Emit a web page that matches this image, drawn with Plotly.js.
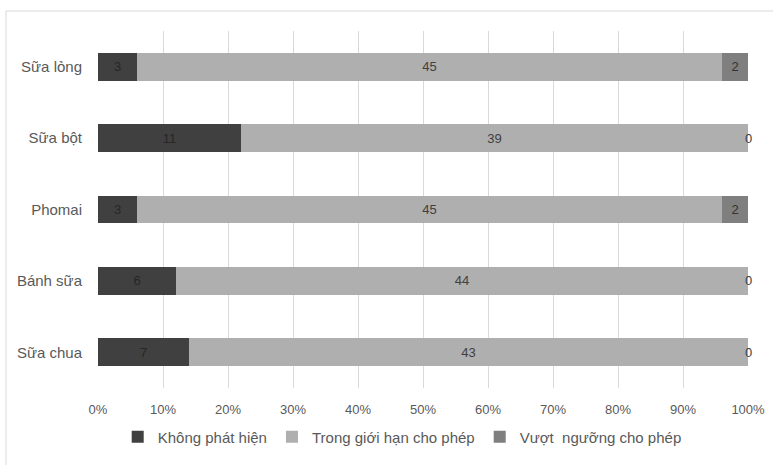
<!DOCTYPE html>
<html>
<head>
<meta charset="utf-8">
<script src="https://cdn.plot.ly/plotly-3.0.1.min.js"></script>
<style>
  html, body { margin: 0; padding: 0; background: #ffffff; }
  #chart { width: 773px; height: 465px; }
</style>
</head>
<body>
<div id="chart"></div>
<script>
// Categories, top to bottom
const categories = ["Sữa lỏng", "Sữa bột", "Phomai", "Bánh sữa", "Sữa chua"];
// Series (counts)
const seriesNames = ["Không phát hiện", "Trong giới hạn cho phép", "Vượt  ngưỡng cho phép"];
const khongPhatHien = [3, 11, 3, 6, 7];
const trongGioiHan = [45, 39, 45, 44, 43];
const vuotNguong = [2, 0, 2, 0, 0];
const tickLabels = ["0%", "10%", "20%", "30%", "40%", "50%", "60%", "70%", "80%", "90%", "100%"];

const colors = ["#404040", "#afafaf", "#7f7f7f"];
const labelColors = ["#262626", "#404040", "#333333"];
const seriesValues = [khongPhatHien, trongGioiHan, vuotNguong];
const FONT = "Liberation Sans, Arial, sans-serif";

const traces = seriesValues.map((vals, i) => ({
  type: "bar",
  orientation: "h",
  name: seriesNames[i],
  y: categories,
  x: vals,
  text: vals.map(v => v > 0 ? String(v) : ""),
  textposition: "inside",
  insidetextanchor: "middle",
  constraintext: "none",
  textfont: { family: FONT, size: 13, color: labelColors[i] },
  marker: { color: colors[i] },
  hoverinfo: "name+text"
}));

// Zero-valued labels placed at the end of the stacked bar (cumulative percent)
const annotations = [];
categories.forEach((c, k) => {
  const total = seriesValues.reduce((s, arr) => s + arr[k], 0);
  let cum = 0;
  seriesValues.forEach((arr, i) => {
    cum += arr[k];
    if (arr[k] === 0) {
      annotations.push({
        x: cum / total * 100, y: c, xref: "x", yref: "y",
        text: String(arr[k]), showarrow: false,
        font: { family: FONT, size: 13, color: "#404040" },
        xanchor: "center", yanchor: "middle"
      });
    }
  });
});

const layout = {
  width: 773,
  height: 465,
  margin: { l: 98, r: 25, t: 31, b: 77 },
  paper_bgcolor: "#ffffff",
  plot_bgcolor: "#ffffff",
  barmode: "stack",
  barnorm: "percent",
  bargap: 0.61,
  showlegend: true,
  font: { family: FONT, color: "#595959" },
  xaxis: {
    range: [0, 100],
    tickvals: tickLabels.map((t, i) => i * 10),
    ticktext: tickLabels,
    showgrid: true,
    gridcolor: "#d9d9d9",
    gridwidth: 1,
    zeroline: false,
    showline: false,
    ticks: "",
    ticklabelstandoff: 12,
    tickfont: { family: FONT, size: 13, color: "#595959" },
    fixedrange: true
  },
  yaxis: {
    autorange: "reversed",
    showgrid: false,
    zeroline: false,
    showline: false,
    ticks: "",
    ticklabelstandoff: 15,
    tickfont: { family: FONT, size: 15, color: "#595959" },
    fixedrange: true
  },
  legend: {
    orientation: "h",
    x: 0.468,
    xanchor: "center",
    y: -0.137,
    yanchor: "middle",
    font: { family: FONT, size: 15, color: "#595959" },
    traceorder: "normal",
    itemwidth: 30
  },
  annotations: annotations,
  shapes: [{
    type: "rect", xref: "paper", yref: "paper",
    x0: (6 - 98) / 650, x1: 1.2,
    y0: -0.3, y1: 1 + (31 - 11) / 357,
    line: { color: "#d9d9d9", width: 1 },
    fillcolor: "rgba(0,0,0,0)",
    layer: "below"
  }]
};

Plotly.newPlot("chart", traces, layout, { displayModeBar: false, staticPlot: true });
</script>
</body>
</html>
